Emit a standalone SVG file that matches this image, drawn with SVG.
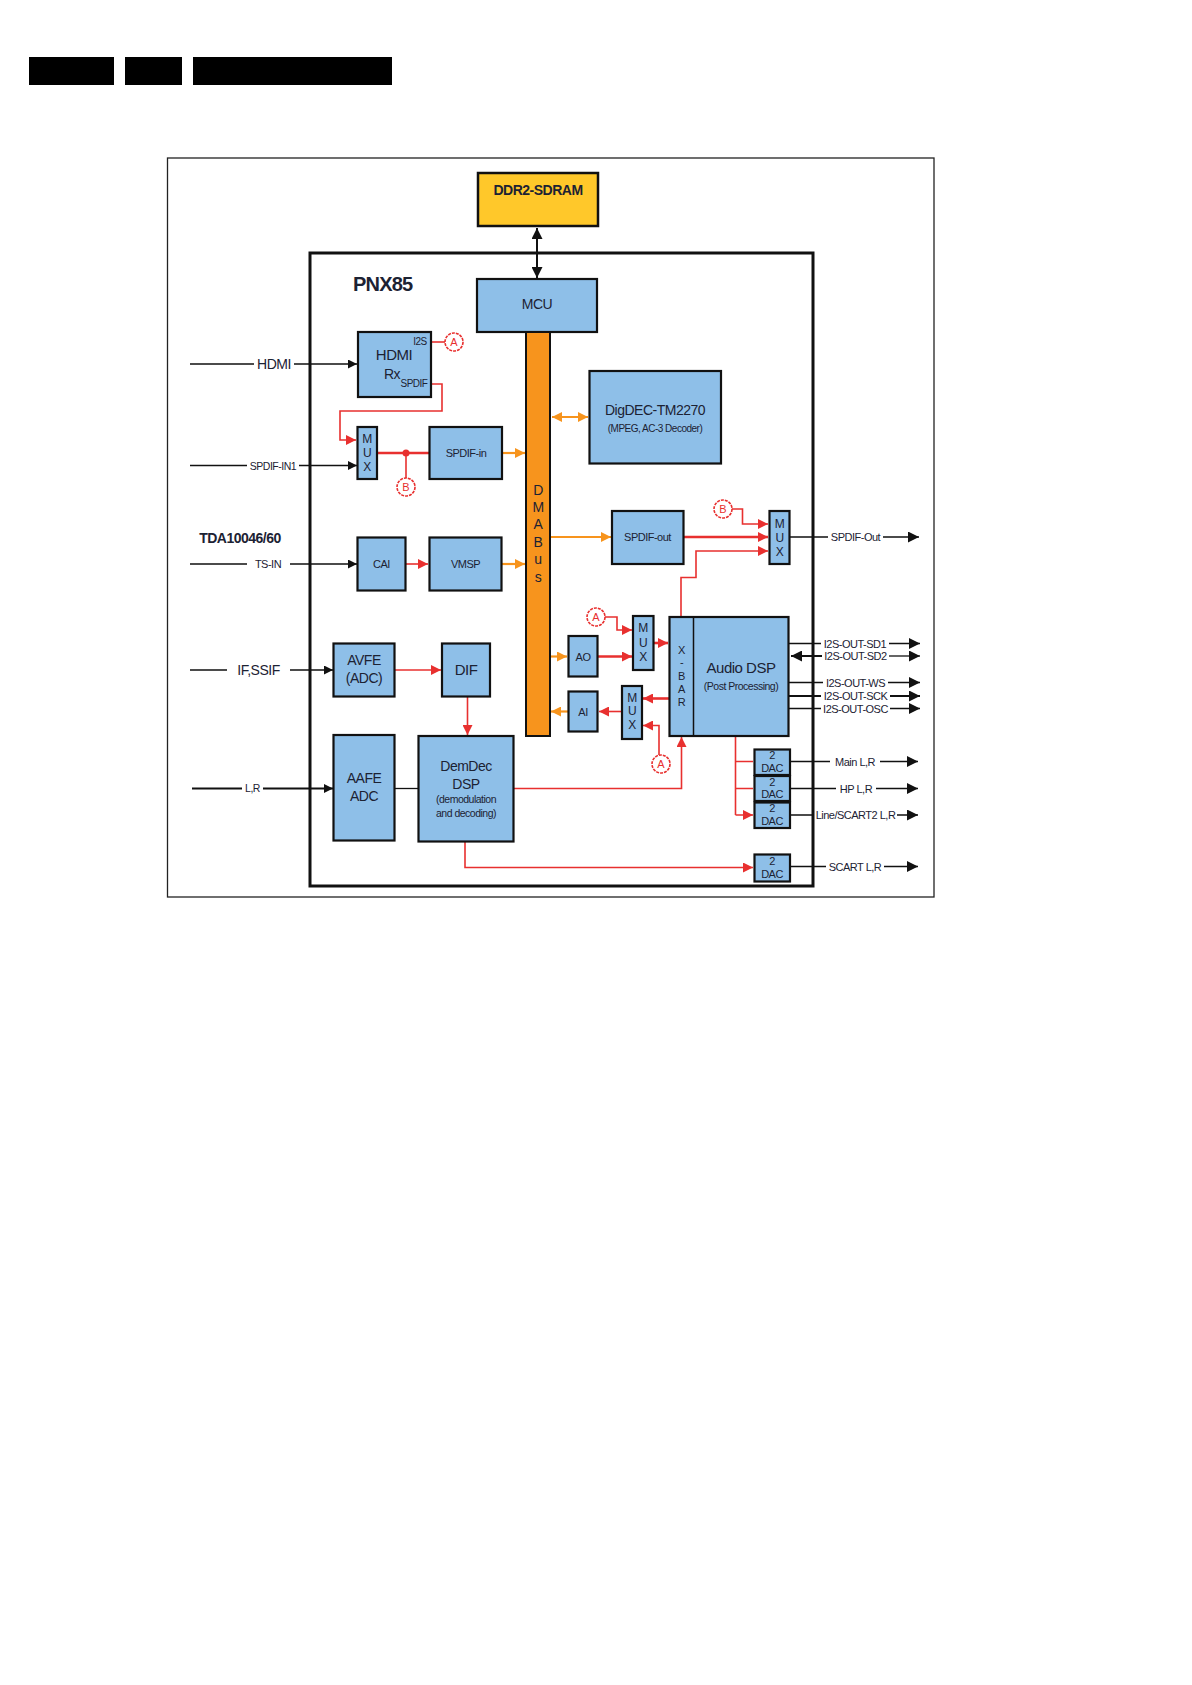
<svg xmlns="http://www.w3.org/2000/svg" width="1192" height="1685" viewBox="0 0 1192 1685">
<style>
.n{fill:#8ebfe8;stroke:#111;stroke-width:2.2}
.t{font-family:"Liberation Sans",Arial,sans-serif;fill:#1c2233;text-anchor:middle;letter-spacing:-0.5px}
.k{stroke:#111;stroke-width:1.3;fill:none}
.kb{stroke:#111;stroke-width:2;fill:none}
.r{stroke:#e8302f;stroke-width:1.6;fill:none}
.rb{stroke:#e8302f;stroke-width:2.6;fill:none}
.o{stroke:#f7941d;stroke-width:2.2;fill:none}
.c{fill:#fff;stroke:#e8302f;stroke-width:1.6;stroke-dasharray:3 1}
.ct{font-family:"Liberation Sans",Arial,sans-serif;fill:#e8302f;text-anchor:middle;font-size:11px}
</style>
<defs>
<marker id="ak" viewBox="0 0 10 10" refX="10" refY="5" markerWidth="12" markerHeight="9" markerUnits="userSpaceOnUse" orient="auto-start-reverse"><path d="M0,0L10,5L0,10z" fill="#111"/></marker>
<marker id="akd" viewBox="0 0 10 10" refX="10" refY="5" markerWidth="15" markerHeight="11" markerUnits="userSpaceOnUse" orient="auto-start-reverse"><path d="M0,0L10,5L0,10z" fill="#111"/></marker>
<marker id="akl" viewBox="0 0 10 10" refX="10" refY="5" markerWidth="15" markerHeight="11" markerUnits="userSpaceOnUse" orient="auto-start-reverse"><path d="M0,0L10,5L0,10z" fill="#111"/></marker>
<marker id="ar" viewBox="0 0 10 10" refX="10" refY="5" markerWidth="12" markerHeight="10" markerUnits="userSpaceOnUse" orient="auto-start-reverse"><path d="M0,0L10,5L0,10z" fill="#e8302f"/></marker>
<marker id="ao" viewBox="0 0 10 10" refX="10" refY="5" markerWidth="12" markerHeight="10" markerUnits="userSpaceOnUse" orient="auto-start-reverse"><path d="M0,0L10,5L0,10z" fill="#f7941d"/></marker>
<clipPath id="pclip"><rect x="340" y="260" width="78" height="40"/></clipPath>
</defs>

<g id="header">
<rect x="29" y="57" width="85" height="28" fill="#000"/>
<rect x="125" y="57" width="57" height="28" fill="#000"/>
<rect x="193" y="57" width="199" height="28" fill="#000"/>
</g>

<rect id="frame" x="167.5" y="158" width="766.5" height="739" fill="#fff" stroke="#222" stroke-width="1.3"/>
<g id="pnx">
<rect x="310" y="253" width="503" height="633" fill="none" stroke="#111" stroke-width="3"/>
<text x="353" y="291" font-family="Liberation Sans,Arial,sans-serif" font-weight="bold" font-size="20" fill="#1c2233" letter-spacing="-0.8" clip-path="url(#pclip)">PNX85</text>
</g>
<text id="tda" x="240" y="543" class="t" font-size="14" font-weight="bold">TDA10046/60</text>

<g id="connectors">
<path class="kb" d="M537,228V278" marker-start="url(#akd)" marker-end="url(#akd)"/>
<path class="k" d="M190,364H254M294,364H357" marker-end="url(#ak)"/>
<path class="k" d="M190,465.5H247M299,465.5H357" marker-end="url(#ak)"/>
<path class="k" d="M190,564H247M290,564H357" marker-end="url(#ak)"/>
<path class="k" d="M190,670H227M290,670H333" marker-end="url(#ak)"/>
<path class="kb" d="M192,788.5H242M263,788.5H333" marker-end="url(#ak)"/>
<path class="k" d="M394.5,788.5H418.5"/>
<path class="r" d="M431,342H445"/>
<path class="r" d="M431,384H442V411H340V440H356" marker-end="url(#ar)"/>
<path class="rb" d="M377,453H429"/>
<circle cx="406" cy="453" r="3.5" fill="#e8302f"/>
<path class="r" d="M406,453V478"/>
<path class="o" d="M502,453H525" marker-end="url(#ao)"/>
<path class="o" d="M552,417H588" marker-start="url(#ao)" marker-end="url(#ao)"/>
<path class="r" d="M406,564H428" marker-end="url(#ar)"/>
<path class="o" d="M502,564H525" marker-end="url(#ao)"/>
<path class="o" d="M551,537H611" marker-end="url(#ao)"/>
<path class="rb" d="M683.5,537H768" marker-end="url(#ar)"/>
<path class="r" d="M732,509H742.5V524H768" marker-end="url(#ar)"/>
<path class="r" d="M681,616.5V577.5H696V551H768" marker-end="url(#ar)"/>
<path class="k" d="M789.5,537H828M883,537H919" marker-end="url(#akl)"/>
<path class="r" d="M605,617H617V630H632" marker-end="url(#ar)"/>
<path class="o" d="M551,656.5H567" marker-end="url(#ao)"/>
<path class="rb" d="M598,656.5H632" marker-end="url(#ar)"/>
<path class="rb" d="M653.5,643H668" marker-end="url(#ar)"/>
<path class="rb" d="M669,698.5H643" marker-end="url(#ar)"/>
<path class="r" d="M621.5,711.5H599" marker-end="url(#ar)"/>
<path class="o" d="M568,711.5H551" marker-end="url(#ao)"/>
<path class="r" d="M659,755V725.5H643" marker-end="url(#ar)"/>
<path class="r" d="M513.5,788.5H681.5V737" marker-end="url(#ar)"/>
<path class="r" d="M394.5,670H441" marker-end="url(#ar)"/>
<path class="r" d="M467.5,697V735" marker-end="url(#ar)"/>
<path class="r" d="M465,842V867.5H753" marker-end="url(#ar)"/>
<path class="r" d="M735.5,736V815"/>
<path class="r" d="M735.5,761.5H753M735.5,788.5H753M735.5,815H753" marker-end="url(#ar)"/>
<path class="k" d="M790,761.5H830M880,761.5H918" marker-end="url(#akl)"/>
<path class="k" d="M790,788.5H836M876,788.5H918" marker-end="url(#akl)"/>
<path class="k" d="M790,815H814M897,815H918" marker-end="url(#akl)"/>
<path class="k" d="M790,866.5H826M884,866.5H918" marker-end="url(#akl)"/>
<path class="k" d="M789,643.5H821M889,643.5H920" marker-end="url(#akl)"/>
<path class="kb" d="M822,656H791" marker-end="url(#akl)"/>
<path class="k" d="M889,656H920" marker-end="url(#akl)"/>
<path class="k" d="M789,682.5H823M888,682.5H920" marker-end="url(#akl)"/>
<path class="kb" d="M789,696H821M890,696H920" marker-end="url(#akl)"/>
<path class="k" d="M789,708.5H821M890,708.5H920" marker-end="url(#akl)"/>
</g>

<g id="labels">
<text class="t" x="274" y="369" font-size="14">HDMI</text>
<text class="t" x="273" y="469.5" font-size="10.5">SPDIF-IN1</text>
<text class="t" x="268" y="568" font-size="11">TS-IN</text>
<text class="t" x="258.5" y="675" font-size="14">IF,SSIF</text>
<text class="t" x="252.5" y="792" font-size="10.5">L,R</text>
<text class="t" x="855.5" y="541" font-size="11">SPDIF-Out</text>
<text class="t" x="855" y="647.5" font-size="11">I2S-OUT-SD1</text>
<text class="t" x="855.5" y="660" font-size="11">I2S-OUT-SD2</text>
<text class="t" x="855.5" y="686.5" font-size="11">I2S-OUT-WS</text>
<text class="t" x="855.5" y="700" font-size="11">I2S-OUT-SCK</text>
<text class="t" x="855.5" y="712.5" font-size="11">I2S-OUT-OSC</text>
<text class="t" x="855" y="765.5" font-size="11">Main L,R</text>
<text class="t" x="856" y="792.5" font-size="11">HP L,R</text>
<text class="t" x="855.5" y="819" font-size="11">Line/SCART2 L,R</text>
<text class="t" x="855" y="870.5" font-size="11">SCART L,R</text>
</g>

<g id="refs">
<circle class="c" cx="454" cy="342" r="9"/><text class="ct" x="454" y="346">A</text>
<circle class="c" cx="406" cy="487" r="9"/><text class="ct" x="406" y="491">B</text>
<circle class="c" cx="723" cy="509" r="9"/><text class="ct" x="723" y="513">B</text>
<circle class="c" cx="596" cy="617" r="9"/><text class="ct" x="596" y="621">A</text>
<circle class="c" cx="661" cy="764" r="9"/><text class="ct" x="661" y="768">A</text>
</g>

<g id="ddr2"><rect x="478" y="173" width="120" height="53" fill="#ffc82a" stroke="#111" stroke-width="2.5"/><text class="t" x="538" y="195" font-size="14" font-weight="bold">DDR2-SDRAM</text></g>
<g id="mcu"><rect class="n" x="477" y="279" width="120" height="53"/><text class="t" x="537" y="309" font-size="14">MCU</text></g>
<g id="dmabus"><rect x="526" y="332" width="24" height="404" fill="#f7941d" stroke="#111" stroke-width="2"/>
<text class="t" x="538" font-size="14" fill="#222"><tspan x="538" y="495">D</tspan><tspan x="538" y="512">M</tspan><tspan x="538" y="529">A</tspan><tspan x="538" y="547">B</tspan><tspan x="538" y="564">u</tspan><tspan x="538" y="582">s</tspan></text></g>
<g id="hdmirx"><rect class="n" x="358" y="332" width="73" height="65"/>
<text class="t" x="394" y="360" font-size="15">HDMI</text><text class="t" x="392" y="379" font-size="14">Rx</text>
<text class="t" x="420" y="345" font-size="10">I2S</text><text class="t" x="414" y="387" font-size="10">SPDIF</text></g>
<g id="mux1"><rect class="n" x="357.5" y="427" width="19.5" height="52"/><text class="t" x="367" font-size="12"><tspan x="367" y="443">M</tspan><tspan x="367" y="457">U</tspan><tspan x="367" y="471">X</tspan></text></g>
<g id="spdifin"><rect class="n" x="429.5" y="427" width="72.5" height="52"/><text class="t" x="466" y="457" font-size="11">SPDIF-in</text></g>
<g id="digdec"><rect class="n" x="589.5" y="371" width="131.5" height="92.5"/><text class="t" x="655" y="415" font-size="14">DigDEC-TM2270</text><text class="t" x="655" y="432" font-size="10">(MPEG, AC-3 Decoder)</text></g>
<g id="cai"><rect class="n" x="357.5" y="537.5" width="48" height="53"/><text class="t" x="381.5" y="568" font-size="11">CAI</text></g>
<g id="vmsp"><rect class="n" x="429.5" y="537.5" width="72" height="53"/><text class="t" x="465.5" y="568" font-size="11">VMSP</text></g>
<g id="spdifout"><rect class="n" x="612" y="511" width="71.5" height="53"/><text class="t" x="647.5" y="541" font-size="11">SPDIF-out</text></g>
<g id="mux2"><rect class="n" x="769.5" y="511" width="20" height="53"/><text class="t" x="779.5" font-size="12"><tspan x="779.5" y="527.5">M</tspan><tspan x="779.5" y="541.5">U</tspan><tspan x="779.5" y="555.5">X</tspan></text></g>
<g id="audiodsp"><rect class="n" x="669.5" y="617" width="119" height="119"/><line x1="693.5" y1="617" x2="693.5" y2="736" stroke="#111" stroke-width="1.5"/>
<text class="t" x="681.5" font-size="11"><tspan x="681.5" y="653.5">X</tspan><tspan x="681.5" y="666">-</tspan><tspan x="681.5" y="680">B</tspan><tspan x="681.5" y="693">A</tspan><tspan x="681.5" y="706">R</tspan></text>
<text class="t" x="741" y="673" font-size="15">Audio DSP</text><text class="t" x="741" y="690" font-size="10.5">(Post Processing)</text></g>
<g id="mux3"><rect class="n" x="633" y="616" width="20.5" height="54"/><text class="t" x="643" font-size="12"><tspan x="643" y="632">M</tspan><tspan x="643" y="647">U</tspan><tspan x="643" y="661">X</tspan></text></g>
<g id="ao"><rect class="n" x="568.5" y="636" width="29" height="40.5"/><text class="t" x="583" y="660.5" font-size="11">AO</text></g>
<g id="mux4"><rect class="n" x="622" y="686" width="20" height="53"/><text class="t" x="632" font-size="12"><tspan x="632" y="702">M</tspan><tspan x="632" y="715">U</tspan><tspan x="632" y="729">X</tspan></text></g>
<g id="ai"><rect class="n" x="568.5" y="691.5" width="29" height="40"/><text class="t" x="583" y="715.5" font-size="11">AI</text></g>
<g id="avfe"><rect class="n" x="333.5" y="643.5" width="61" height="53"/><text class="t" x="364" y="665" font-size="14">AVFE</text><text class="t" x="364" y="683" font-size="14">(ADC)</text></g>
<g id="dif"><rect class="n" x="442" y="643.5" width="48" height="53"/><text class="t" x="466" y="675" font-size="15">DIF</text></g>
<g id="aafe"><rect class="n" x="333.5" y="735" width="61" height="105.5"/><text class="t" x="364" y="783" font-size="14">AAFE</text><text class="t" x="364" y="801" font-size="14">ADC</text></g>
<g id="demdec"><rect class="n" x="418.5" y="736" width="95" height="105.5"/><text class="t" x="466" y="771" font-size="14">DemDec</text><text class="t" x="466" y="788.5" font-size="14">DSP</text><text class="t" x="466" y="803" font-size="10.5">(demodulation</text><text class="t" x="466" y="817" font-size="10.5">and decoding)</text></g>
<g id="dac1"><rect class="n" x="754.5" y="749.5" width="35.5" height="25.5"/><text class="t" x="772" y="759" font-size="11">2</text><text class="t" x="772" y="771.5" font-size="11">DAC</text></g>
<g id="dac2"><rect class="n" x="754.5" y="776" width="35.5" height="25"/><text class="t" x="772" y="785.5" font-size="11">2</text><text class="t" x="772" y="798" font-size="11">DAC</text></g>
<g id="dac3"><rect class="n" x="754.5" y="802.5" width="35.5" height="25.5"/><text class="t" x="772" y="812" font-size="11">2</text><text class="t" x="772" y="824.5" font-size="11">DAC</text></g>
<g id="dac4"><rect class="n" x="754.5" y="854.5" width="35.5" height="27"/><text class="t" x="772" y="865" font-size="11">2</text><text class="t" x="772" y="878" font-size="11">DAC</text></g>
</svg>
